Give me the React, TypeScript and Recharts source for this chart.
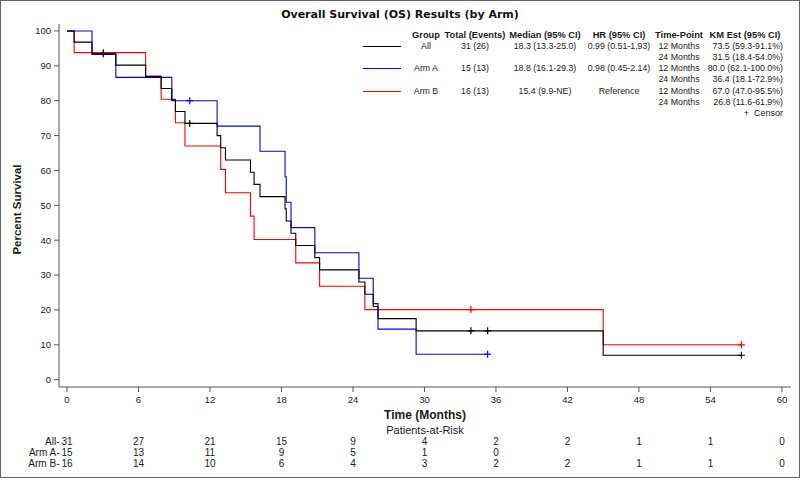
import React from "react";
import { ComposedChart, Line, Scatter, XAxis, YAxis } from "recharts";

// Kaplan-Meier step points (t = months, s = % survival)
const allCurve = [
  { t: 0, s: 100 }, { t: 0.6, s: 96.8 }, { t: 2.1, s: 93.5 }, { t: 4.1, s: 90.2 },
  { t: 6.6, s: 86.9 }, { t: 7.9, s: 83.5 }, { t: 8.8, s: 80.2 }, { t: 9.1, s: 76.9 },
  { t: 9.9, s: 73.5 }, { t: 12.6, s: 70.0 }, { t: 12.9, s: 66.5 }, { t: 13.3, s: 63.0 },
  { t: 15.4, s: 59.5 }, { t: 15.7, s: 56.0 }, { t: 16.2, s: 52.5 }, { t: 18.3, s: 49.0 },
  { t: 18.4, s: 45.5 }, { t: 18.8, s: 42.0 }, { t: 19.2, s: 38.5 }, { t: 20.8, s: 35.0 },
  { t: 21.2, s: 31.5 }, { t: 24.5, s: 28.0 }, { t: 25.0, s: 24.5 }, { t: 25.7, s: 21.0 },
  { t: 26.1, s: 17.5 }, { t: 29.3, s: 14.0 }, { t: 45.0, s: 7.0 }, { t: 56.6, s: 7.0 },
];
const armACurve = [
  { t: 0, s: 100 }, { t: 2.1, s: 93.3 }, { t: 4.1, s: 86.7 }, { t: 8.8, s: 80.0 },
  { t: 12.6, s: 72.7 }, { t: 16.2, s: 65.5 }, { t: 18.3, s: 58.2 }, { t: 18.4, s: 50.9 },
  { t: 18.8, s: 43.6 }, { t: 20.8, s: 36.4 }, { t: 24.5, s: 29.1 }, { t: 25.7, s: 21.8 },
  { t: 26.1, s: 14.5 }, { t: 29.3, s: 7.3 }, { t: 35.3, s: 7.3 },
];
const armBCurve = [
  { t: 0, s: 100 }, { t: 0.6, s: 93.8 }, { t: 6.6, s: 87.1 }, { t: 7.9, s: 80.4 },
  { t: 9.1, s: 73.7 }, { t: 9.9, s: 67.0 }, { t: 12.9, s: 60.3 }, { t: 13.3, s: 53.6 },
  { t: 15.4, s: 46.9 }, { t: 15.7, s: 40.2 }, { t: 19.2, s: 33.5 }, { t: 21.2, s: 26.8 },
  { t: 25.0, s: 20.1 }, { t: 45.0, s: 10.0 }, { t: 56.6, s: 10.0 },
];

// censored observations
const allCensor = [
  { t: 3.05, s: 93.5 }, { t: 10.3, s: 73.5 }, { t: 33.9, s: 14.0 },
  { t: 35.3, s: 14.0 }, { t: 56.6, s: 7.0 },
];
const armACensor = [{ t: 10.3, s: 80.0 }, { t: 35.3, s: 7.3 }];
const armBCensor = [{ t: 3.05, s: 93.8 }, { t: 33.9, s: 20.1 }, { t: 56.6, s: 10.0 }];

const months = [0, 6, 12, 18, 24, 30, 36, 42, 48, 54, 60];
const survivalTicks = [0, 10, 20, 30, 40, 50, 60, 70, 80, 90, 100];

// patients at risk at each month tick
const riskAll = [31, 27, 21, 15, 9, 4, 2, 2, 1, 1, 0];
const riskArmA = [15, 13, 11, 9, 5, 1, 0];
const riskArmB = [16, 14, 10, 6, 4, 3, 2, 2, 1, 1, 0];

// summary table
const groups = ["All", "Arm A", "Arm B"];
const totals = ["31 (26)", "15 (13)", "16 (13)"];
const medians = ["18.3 (13.3-25.0)", "18.8 (16.1-29.3)", "15.4 (9.9-NE)"];
const hazardRatios = ["0.99 (0.51-1.93)", "0.98 (0.45-2.14)", "Reference"];
const timePoints = ["12 Months", "24 Months"];
const kmEstimates = [
  ["73.5 (59.3-91.1%)", "31.5 (18.4-54.0%)"],
  ["80.0 (62.1-100.0%)", "36.4 (18.1-72.9%)"],
  ["67.0 (47.0-95.5%)", "26.8 (11.6-61.9%)"],
];
const headers = ["Group", "Total (Events)", "Median (95% CI)", "HR (95% CI)", "Time-Point", "KM Est (95% CI)"];

const COLORS = { all: "#000000", armA: "#0000ff", armB: "#ff0000" };
const groupColors = [COLORS.all, COLORS.armA, COLORS.armB];

const FONT = '"Liberation Sans", Arial, sans-serif';
const AXIS = "#555";
const TEXT = "#1a1a1a";
const X_DOMAIN = [-0.67, 60.76];
const Y_DOMAIN = [-2.1, 102];

const plus = (color: string) => (props: any) => {
  const { cx, cy } = props;
  return (
    <path
      d={`M${cx - 3.5},${cy}H${cx + 3.5}M${cx},${cy - 3.5}V${cy + 3.5}`}
      stroke={color}
      strokeWidth={1.2}
      fill="none"
    />
  );
};

const riskTick = (label: string, counts: number[]) => (props: any) => {
  const { x, y, payload } = props;
  const v = counts[months.indexOf(payload.value)];
  return (
    <g fontFamily={FONT} fontSize={10} fill={TEXT}>
      {payload.value === 0 && (
        <text x={x - 7.5} y={y + 5.5} textAnchor="end" dominantBaseline="central">
          {label}
        </text>
      )}
      {v !== undefined && (
        <text x={x} y={y + 5.5} textAnchor="middle" dominantBaseline="central">
          {v}
        </text>
      )}
    </g>
  );
};

const xLabel = (props: any) => {
  const vb = props.viewBox || { x: 59, y: 387, width: 732 };
  const cx = vb.x + vb.width / 2;
  return (
    <g fontFamily={FONT} fill={TEXT}>
      <text x={cx} y={vb.y + 28} textAnchor="middle" dominantBaseline="central" fontSize={12} fontWeight="bold">
        Time (Months)
      </text>
      <text x={cx} y={vb.y + 43} textAnchor="middle" dominantBaseline="central" fontSize={11}>
        Patients-at-Risk
      </text>
    </g>
  );
};

const yLabel = (props: any) => {
  const vb = props.viewBox || { x: 0, y: 24, height: 363 };
  const cx = vb.x + 17;
  const cy = vb.y + vb.height / 2 + 4;
  return (
    <text
      x={cx}
      y={cy}
      transform={`rotate(-90 ${cx} ${cy})`}
      textAnchor="middle"
      dominantBaseline="central"
      fontFamily={FONT}
      fontSize={11.5}
      fontWeight="bold"
      fill={TEXT}
    >
      Percent Survival
    </text>
  );
};

const colX = [426, 475, 545, 619, 679, 745];
const kmRight = 783;
const rowY = [35, 46.1, 57.2, 68.3, 79.4, 90.5, 101.6, 112.7];

function Cell({ x, y, text, bold, right }: { x: number; y: number; text: string; bold?: boolean; right?: boolean }) {
  return (
    <div
      style={{
        position: "absolute",
        left: right ? x - 120 : x - 60,
        width: 120,
        top: y - 6,
        height: 12,
        lineHeight: "12px",
        textAlign: right ? "right" : "center",
        whiteSpace: "nowrap",
        fontSize: bold ? 9.3 : 8.8,
        fontWeight: bold ? "bold" : "normal",
        color: TEXT,
      }}
    >
      {text}
    </div>
  );
}

function SummaryTable() {
  return (
    <div style={{ position: "absolute", left: 0, top: 0, fontFamily: FONT }}>
      {headers.map((h, i) => (
        <Cell key={h} x={colX[i]} y={rowY[0]} text={h} bold />
      ))}
      {groups.map((g, gi) => {
        const y1 = rowY[1 + gi * 2];
        const y2 = rowY[2 + gi * 2];
        return (
          <React.Fragment key={g}>
            <div
              style={{
                position: "absolute",
                left: 363,
                width: 38,
                top: Math.round(y1),
                height: 0,
                borderTop: `1px solid ${groupColors[gi]}`,
              }}
            />
            <Cell x={colX[0]} y={y1} text={g} />
            <Cell x={colX[1]} y={y1} text={totals[gi]} />
            <Cell x={colX[2]} y={y1} text={medians[gi]} />
            <Cell x={colX[3]} y={y1} text={hazardRatios[gi]} />
            <Cell x={colX[4]} y={y1} text={timePoints[0]} />
            <Cell x={kmRight} y={y1} text={kmEstimates[gi][0]} right />
            <Cell x={colX[4]} y={y2} text={timePoints[1]} />
            <Cell x={kmRight} y={y2} text={kmEstimates[gi][1]} right />
          </React.Fragment>
        );
      })}
      <div
        style={{
          position: "absolute",
          left: 640,
          width: 143,
          top: rowY[7] - 6,
          height: 12,
          lineHeight: "12px",
          textAlign: "right",
          fontSize: 9,
          color: TEXT,
          whiteSpace: "nowrap",
        }}
      >
        +&nbsp;&nbsp;Censor
      </div>
    </div>
  );
}

export default function App() {
  const tickStyle = { fontSize: 9.5, fill: TEXT, fontFamily: FONT };
  return (
    <div style={{ position: "absolute", left: 0, top: 0, width: 800, height: 480, background: "#fff" }}>
      <ComposedChart width={800} height={480} margin={{ top: 24, right: 9, bottom: 11, left: 0 }}>
        <XAxis
          xAxisId="x0"
          dataKey="t"
          type="number"
          domain={X_DOMAIN}
          allowDataOverflow
          ticks={months}
          interval={0}
          height={49}
          tickSize={5}
          tickMargin={4}
          stroke={AXIS}
          tick={tickStyle}
          label={xLabel}
        />
        <XAxis xAxisId="x1" dataKey="t" type="number" domain={X_DOMAIN} allowDataOverflow ticks={months}
          interval={0} height={11} axisLine={false} tickLine={false} tickSize={0} tickMargin={0}
          tick={riskTick("All-", riskAll)} />
        <XAxis xAxisId="x2" dataKey="t" type="number" domain={X_DOMAIN} allowDataOverflow ticks={months}
          interval={0} height={11} axisLine={false} tickLine={false} tickSize={0} tickMargin={0}
          tick={riskTick("Arm A-", riskArmA)} />
        <XAxis xAxisId="x3" dataKey="t" type="number" domain={X_DOMAIN} allowDataOverflow ticks={months}
          interval={0} height={11} axisLine={false} tickLine={false} tickSize={0} tickMargin={0}
          tick={riskTick("Arm B-", riskArmB)} />
        <XAxis xAxisId="top" orientation="top" dataKey="t" type="number" domain={X_DOMAIN} allowDataOverflow
          height={0} tick={false} tickLine={false} stroke={AXIS} />
        <YAxis
          yAxisId="main"
          dataKey="s"
          type="number"
          domain={Y_DOMAIN}
          allowDataOverflow
          ticks={survivalTicks}
          interval={0}
          width={59}
          tickSize={5}
          tickMargin={3}
          stroke={AXIS}
          tick={tickStyle}
          label={yLabel}
        />
        <YAxis yAxisId="right" orientation="right" type="number" domain={Y_DOMAIN} allowDataOverflow
          width={0} tick={false} tickLine={false} stroke={AXIS} />

        <Line xAxisId="x0" yAxisId="main" data={armBCurve} dataKey="s" type="stepAfter"
          stroke={COLORS.armB} strokeWidth={1.1} dot={false} isAnimationActive={false} />
        <Line xAxisId="x0" yAxisId="main" data={armACurve} dataKey="s" type="stepAfter"
          stroke={COLORS.armA} strokeWidth={1.1} dot={false} isAnimationActive={false} />
        <Line xAxisId="x0" yAxisId="main" data={allCurve} dataKey="s" type="stepAfter"
          stroke={COLORS.all} strokeWidth={1.1} dot={false} isAnimationActive={false} />
        <Scatter xAxisId="x0" yAxisId="main" data={armBCensor} dataKey="s" shape={plus(COLORS.armB)} isAnimationActive={false} />
        <Scatter xAxisId="x0" yAxisId="main" data={armACensor} dataKey="s" shape={plus(COLORS.armA)} isAnimationActive={false} />
        <Scatter xAxisId="x0" yAxisId="main" data={allCensor} dataKey="s" shape={plus(COLORS.all)} isAnimationActive={false} />
      </ComposedChart>
      <div
        style={{
          position: "absolute",
          left: 0,
          top: 8,
          width: 800,
          height: 14,
          lineHeight: "14px",
          textAlign: "center",
          fontFamily: '"DejaVu Sans", sans-serif',
          fontWeight: "bold",
          fontSize: 11,
          color: "#111",
        }}
      >
        Overall Survival (OS) Results (by Arm)
      </div>
      <SummaryTable />
      <div
        style={{
          position: "absolute",
          left: 0,
          top: 0,
          width: 800,
          height: 478,
          border: "1px solid #666",
          boxSizing: "border-box",
          pointerEvents: "none",
        }}
      />
    </div>
  );
}
